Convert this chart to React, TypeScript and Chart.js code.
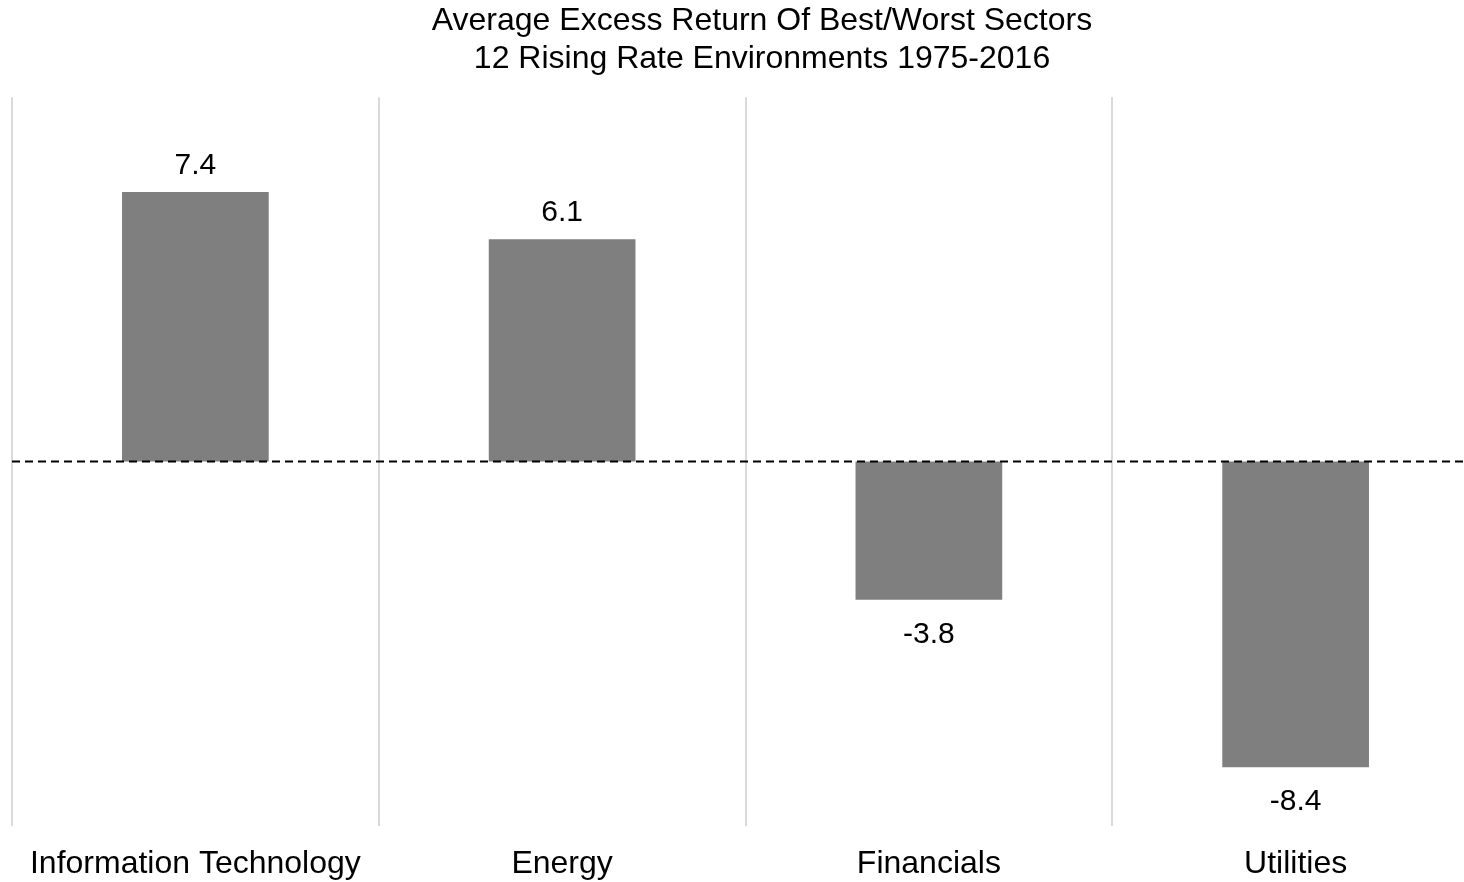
import React, { useEffect, useRef } from "react";
import { Chart, registerables } from "chart.js";

Chart.register(...registerables);

const categories = ["Information Technology", "Energy", "Financials", "Utilities"];
const excessReturns = [7.4, 6.1, -3.8, -8.4];
const titleLines = [
  "Average Excess Return Of Best/Worst Sectors",
  "12 Rising Rate Environments 1975-2016",
];
const yMin = -10;
const yMax = 10;

const FONT = '"Liberation Sans", Arial, sans-serif';

const zeroLinePlugin = {
  id: "zeroLine",
  afterDatasetsDraw(chart: any) {
    const { ctx, chartArea, scales } = chart;
    const y = scales.y.getPixelForValue(0);
    ctx.save();
    ctx.strokeStyle = "#000";
    ctx.lineWidth = 2;
    ctx.setLineDash([8, 5]);
    ctx.beginPath();
    ctx.moveTo(chartArea.left, y);
    ctx.lineTo(chartArea.right, y);
    ctx.stroke();
    ctx.restore();
  },
};

const valueLabelPlugin = {
  id: "valueLabels",
  afterDatasetsDraw(chart: any) {
    const { ctx } = chart;
    const meta = chart.getDatasetMeta(0);
    const data = chart.data.datasets[0].data as number[];
    ctx.save();
    ctx.font = `30px ${FONT}`;
    ctx.fillStyle = "#000";
    ctx.textAlign = "center";
    ctx.textBaseline = "alphabetic";
    meta.data.forEach((bar: any, i: number) => {
      const v = data[i];
      const { x, y } = bar.getProps(["x", "y"], true);
      ctx.fillText(v.toFixed(1), x, v >= 0 ? y - 18 : y + 43);
    });
    ctx.restore();
  },
};

export default function App() {
  const canvasRef = useRef<HTMLCanvasElement | null>(null);

  useEffect(() => {
    if (!canvasRef.current) return;
    const chart = new Chart(canvasRef.current, {
      type: "bar",
      data: {
        labels: categories,
        datasets: [
          {
            data: excessReturns,
            backgroundColor: "#7f7f7f",
            borderWidth: 0,
            barPercentage: 0.4,
            categoryPercentage: 1,
          },
        ],
      },
      options: {
        animation: false,
        responsive: false,
        layout: { padding: 0 },
        plugins: {
          legend: { display: false },
          tooltip: { enabled: false },
          title: {
            display: true,
            text: titleLines,
            color: "#000",
            font: { family: FONT, size: 32, weight: "normal", lineHeight: 1.16 },
            padding: { top: 3, bottom: 20 },
          },
        },
        scales: {
          x: {
            offset: true,
            grid: { offset: true, color: "#d9d9d9", lineWidth: 2, drawTicks: false },
            border: { display: false },
            ticks: {
              color: "#000",
              font: { family: FONT, size: 32 },
              padding: 19,
              maxRotation: 0,
              autoSkip: false,
            },
          },
          y: {
            type: "linear",
            min: yMin,
            max: yMax,
            ticks: { display: false },
            grid: { display: false },
            border: { display: false },
            afterFit: (s: any) => {
              s.width = 12;
            },
          },
          y2: {
            type: "linear",
            position: "right",
            ticks: { display: false },
            grid: { display: false },
            border: { display: false },
            afterFit: (s: any) => {
              s.width = 45;
            },
          },
        },
      } as any,
      plugins: [zeroLinePlugin, valueLabelPlugin],
    });
    return () => chart.destroy();
  }, []);

  return (
    <div
      style={{
        position: "fixed",
        left: 0,
        top: 0,
        width: 1464,
        height: 882,
        overflow: "hidden",
        background: "#fff",
      }}
    >
      <canvas
        ref={canvasRef}
        width={1524}
        height={902}
        style={{ position: "absolute", left: 0, top: 0, width: 1524, height: 902 }}
      />
    </div>
  );
}
